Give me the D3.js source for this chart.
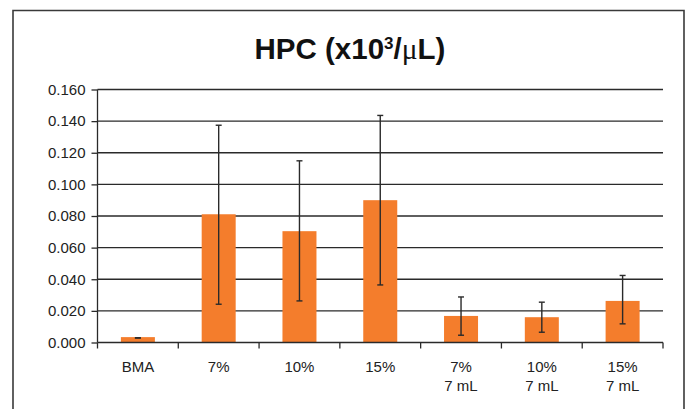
<!DOCTYPE html>
<html><head><meta charset="utf-8">
<script src="https://cdn.jsdelivr.net/npm/d3@7"></script>
<style>body{margin:0;background:#fff;}svg{display:block;}</style>
</head><body>
<svg id="c" width="691" height="409"></svg>
<script>
const categories = [["BMA"],["7%"],["10%"],["15%"],["7%","7 mL"],["10%","7 mL"],["15%","7 mL"]];
const values   = [0.0034, 0.0811, 0.0704, 0.0900, 0.0168, 0.0160, 0.0263];
const errLow   = [0.0028, 0.0242, 0.0263, 0.0364, 0.0046, 0.0065, 0.0118];
const errHigh  = [0.0030, 0.1374, 0.1149, 0.1436, 0.0288, 0.0255, 0.0424];
const yTicks   = [0, 0.02, 0.04, 0.06, 0.08, 0.10, 0.12, 0.14, 0.16];

const svg = d3.select("#c");
const font = "'Liberation Sans', Arial, Helvetica, sans-serif";
// frame
svg.append("path").attr("d","M13,409 L13,10.5 L684,10.5 L684,409")
  .attr("fill","none").attr("stroke","#3a3a3a").attr("stroke-width",1.6);

// title
const t = svg.append("text").attr("x",350).attr("y",59).attr("text-anchor","middle")
  .attr("font-family",font).attr("font-weight","bold").attr("font-size",29.5).attr("fill","#111");
t.append("tspan").text("HPC (x10");
t.append("tspan").attr("font-size",17).attr("dy",-10).text("3");
t.append("tspan").attr("dy",10).text("/");
t.append("tspan").attr("font-family","'Liberation Serif', 'Times New Roman', serif").attr("font-weight","normal").text("\u03BC");
t.append("tspan").text("L)");

const m = {l:97.5, r:663, t:89.5, b:342.5};
const x = d3.scaleBand().domain(d3.range(categories.length)).range([m.l,m.r]).paddingInner(0).paddingOuter(0);
const y = d3.scaleLinear().domain([0,0.16]).range([m.b,m.t]);

// gridlines
svg.append("g").selectAll("line").data(yTicks.slice(1)).join("line")
  .attr("x1",m.l).attr("x2",m.r).attr("y1",d=>y(d)).attr("y2",d=>y(d))
  .attr("stroke","#2a2a2a").attr("stroke-width",1.3);

// y axis
const ya = svg.append("g").attr("transform",`translate(${m.l},0)`)
  .call(d3.axisLeft(y).tickValues(yTicks).tickFormat(d3.format(".3f")).tickSize(6).tickPadding(6));
ya.select(".domain").attr("stroke","#2a2a2a").attr("stroke-width",1.3).attr("d",`M0,${m.t}V${m.b}`);
ya.selectAll(".tick line").attr("stroke","#2a2a2a").attr("stroke-width",1.3);
ya.selectAll(".tick text").attr("font-family",font).attr("font-size",15).attr("fill","#222");

// bars
const bw = 34;
svg.append("g").selectAll("rect").data(values).join("rect")
  .attr("x",(d,i)=>x(i)+x.bandwidth()/2-bw/2).attr("width",bw)
  .attr("y",d=>y(d)).attr("height",d=>y(0)-y(d)).attr("fill","#F47D2C");

// x axis
const xa = svg.append("g").attr("transform",`translate(0,${m.b})`);
xa.append("line").attr("x1",m.l).attr("x2",m.r).attr("stroke","#2a2a2a").attr("stroke-width",1.3);
const bounds = d3.range(categories.length+1).map(i=> i<categories.length ? x(i) : m.r);
xa.selectAll("line.tk").data(bounds).join("line").attr("class","tk")
  .attr("x1",d=>d).attr("x2",d=>d).attr("y1",0).attr("y2",6)
  .attr("stroke","#2a2a2a").attr("stroke-width",1.3);
categories.forEach((c,i)=>{
  const tx = xa.append("text").attr("x",x(i)+x.bandwidth()/2).attr("y",29)
    .attr("text-anchor","middle").attr("font-family",font).attr("font-size",15).attr("fill","#222");
  c.forEach((s,j)=> tx.append("tspan").attr("x",x(i)+x.bandwidth()/2).attr("dy",j?19:0).text(s));
});

// error bars
const eb = svg.append("g").attr("stroke","#2a2a2a").attr("stroke-width",1.4);
values.forEach((v,i)=>{
  const cx = x(i)+x.bandwidth()/2;
  eb.append("line").attr("x1",cx).attr("x2",cx).attr("y1",y(errLow[i])).attr("y2",y(errHigh[i]));
  [errLow[i],errHigh[i]].forEach(e=> eb.append("line").attr("x1",cx-3).attr("x2",cx+3).attr("y1",y(e)).attr("y2",y(e)));
});
</script>
</body></html>
